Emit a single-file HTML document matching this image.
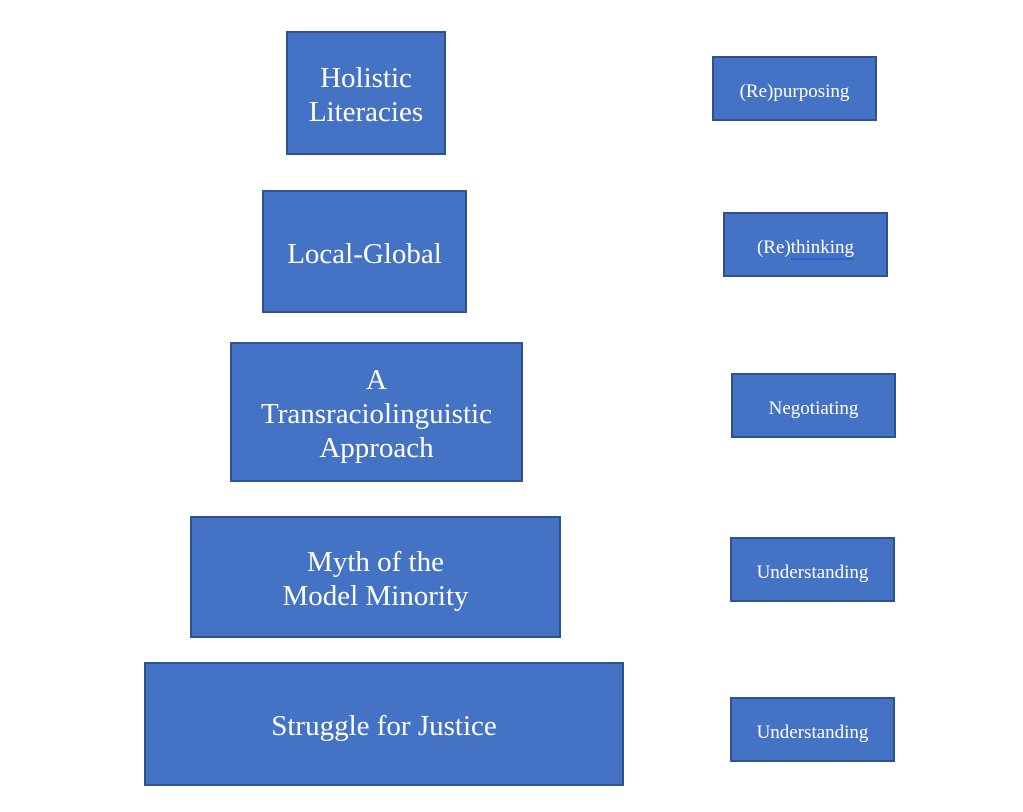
<!DOCTYPE html><html><head><style>
body{margin:0;width:1023px;height:812px;background:#fff;position:relative;overflow:hidden}
.b{position:absolute;box-sizing:border-box;background:#4472C4;border:2px solid #2F528F;color:#fff;font-family:"Liberation Serif",serif;display:flex;align-items:center;justify-content:center;text-align:center;padding-top:4px}
.L{font-size:29px;line-height:34px}
.S{font-size:19px;padding-top:6px}
</style></head><body>
<div class="b L" style="left:286px;top:31px;width:160px;height:124px">Holistic<br>Literacies</div>
<div class="b L" style="left:262px;top:190px;width:205px;height:123px">Local-Global</div>
<div class="b L" style="left:230px;top:342px;width:293px;height:140px">A<br>Transraciolinguistic<br>Approach</div>
<div class="b L" style="left:190px;top:516px;width:371px;height:122px">Myth of the<br>Model Minority</div>
<div class="b L" style="left:144px;top:662px;width:480px;height:124px">Struggle for Justice</div>
<div class="b S" style="left:712px;top:56px;width:165px;height:65px">(Re)purposing</div>
<div class="b S" style="left:723px;top:212px;width:165px;height:65px"><span>(Re)<span style="border-bottom:2px solid #2a5fd8">thinking</span></span></div>
<div class="b S" style="left:731px;top:373px;width:165px;height:65px">Negotiating</div>
<div class="b S" style="left:730px;top:537px;width:165px;height:65px">Understanding</div>
<div class="b S" style="left:730px;top:697px;width:165px;height:65px">Understanding</div>
</body></html>
